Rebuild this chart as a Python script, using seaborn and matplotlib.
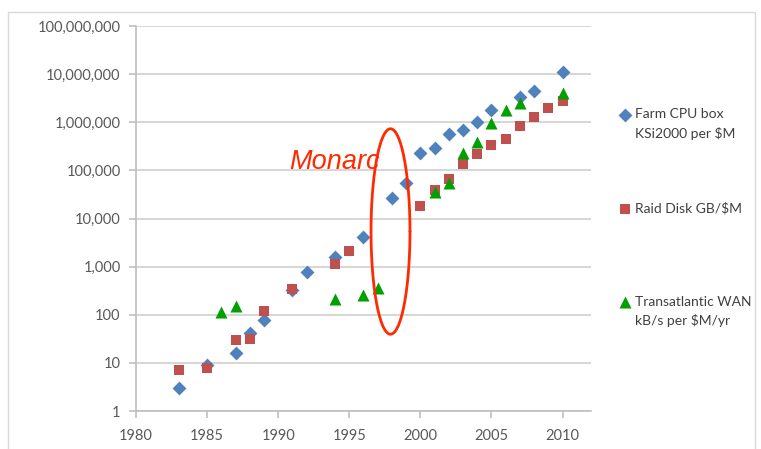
import numpy as np
import pandas as pd
import seaborn as sns
import matplotlib.pyplot as plt
from matplotlib.lines import Line2D
from matplotlib.patches import Rectangle

# Values (log scale)
cpu_years = [1983, 1985, 1987, 1988, 1989, 1991, 1992, 1994, 1996, 1998, 1999,
             2000, 2001, 2002, 2003, 2004, 2005, 2007, 2008, 2010]
cpu_vals = [3, 9, 16, 42, 76, 320, 780, 1600, 4200, 27000, 55000,
            225000, 295000, 580000, 680000, 1030000, 1780000, 3300000, 4500000, 11000000]

disk_years = [1983, 1985, 1987, 1988, 1989, 1991, 1994, 1995, 2000, 2001, 2002,
              2003, 2004, 2005, 2006, 2007, 2008, 2009, 2010]
disk_vals = [7.1, 8, 30, 31, 120, 345, 1150, 2100, 18600, 40000, 65000,
             133000, 215000, 335000, 445000, 840000, 1280000, 1940000, 2770000]

wan_years = [1986, 1987, 1994, 1996, 1997, 2001, 2002, 2003, 2004, 2005, 2006, 2007, 2010]
wan_vals = [112, 149, 213, 252, 360, 35000, 55000, 225000, 390000, 950000,
            1800000, 2500000, 4000000]

series_names = ['Farm CPU box\nKSi2000 per $M', 'Raid Disk GB/$M',
                'Transatlantic WAN\nkB/s per $M/yr']
x_ticks = [1980, 1985, 1990, 1995, 2000, 2005, 2010]
y_ticks = [1, 10, 100, 1000, 10000, 100000, 1000000, 10000000, 100000000]

df = pd.concat([
    pd.DataFrame({'year': cpu_years, 'value': cpu_vals, 'series': series_names[0]}),
    pd.DataFrame({'year': disk_years, 'value': disk_vals, 'series': series_names[1]}),
    pd.DataFrame({'year': wan_years, 'value': wan_vals, 'series': series_names[2]}),
])

sns.set_style('white')
plt.rcParams['font.family'] = ['Lato', 'DejaVu Sans']

fig = plt.figure(figsize=(7.61, 4.49), dpi=100)
ax = fig.add_axes([0.1787, 0.0846, 0.5979, 0.8575])

palette = {series_names[0]: '#4F81BD', series_names[1]: '#C0504D', series_names[2]: '#00A000'}
markers = {series_names[0]: 'D', series_names[1]: 's', series_names[2]: '^'}
sizes = {series_names[0]: 50, series_names[1]: 50, series_names[2]: 75}

for name in series_names:
    sub = df[df['series'] == name]
    sns.scatterplot(data=sub, x='year', y='value', color=palette[name], marker=markers[name],
                    s=sizes[name], linewidth=0, ax=ax, label=name, zorder=3)

ax.set_yscale('log')
ax.set_ylim(1, 1e8)
ax.set_xlim(1980, 2012)
ax.set_xticks(x_ticks)
ax.set_yticks(y_ticks)
ax.set_yticklabels([f'{v:,}' for v in y_ticks])
ax.minorticks_off()
ax.yaxis.grid(True, color='#D0D0D0', linewidth=1.2)
ax.set_axisbelow(True)
for side in ['top', 'right']:
    ax.spines[side].set_visible(False)
for side in ['left', 'bottom']:
    ax.spines[side].set_color('#BFBFBF')
    ax.spines[side].set_linewidth(1.2)
ax.tick_params(axis='both', which='major', length=5, width=1.2, color='#BFBFBF',
               labelsize=10.5, labelcolor='#595959', direction='out',
               left=True, bottom=True)
ax.tick_params(axis='x', pad=8)
ax.tick_params(axis='y', pad=6)
ax.set_xlabel('')
ax.set_ylabel('')

# Monarc annotation: hand-drawn ellipse and label
t = np.linspace(0, 2 * np.pi, 200)
ax.plot(1997.9 + 1.37 * np.cos(t), 10 ** (3.73 + 2.135 * np.sin(t)),
        color='#FF2A00', linewidth=2, zorder=4)
ax.text(1990.8, 10 ** 5.17, 'Monarc', color='#FF2A00', fontsize=19.5, style='italic',
        family=['Liberation Sans', 'DejaVu Sans'], va='center', ha='left', zorder=5)

# Legend: Excel style, marker beside the first line of each label
handles, labels = ax.get_legend_handles_labels()
ax.get_legend().remove()
blank = Line2D([], [], linestyle='none', marker='')
line_y = [[0.771, 0.722], [0.527], [0.283, 0.236]]
legends = []
for h, l, ys in zip(handles, labels, line_y):
    for i, (part, y) in enumerate(zip(l.split('\n'), ys)):
        leg = ax.legend([h if i == 0 else blank], [part], loc='center left',
                        bbox_to_anchor=(1.065, y), frameon=False, fontsize=10,
                        handlelength=0.6, handletextpad=0.45, borderpad=0,
                        borderaxespad=0)
        for txt in leg.get_texts():
            txt.set_color('#404040')
        legends.append(leg)
for leg in legends[:-1]:
    ax.add_artist(leg)

# Outer chart frame
fig.patches.append(Rectangle((8 / 761, -0.01), 747 / 761, 1.01 - 12 / 449,
                             transform=fig.transFigure, fill=False,
                             edgecolor='#D9D9D9', linewidth=1))

fig.savefig('out.png', dpi=100)
